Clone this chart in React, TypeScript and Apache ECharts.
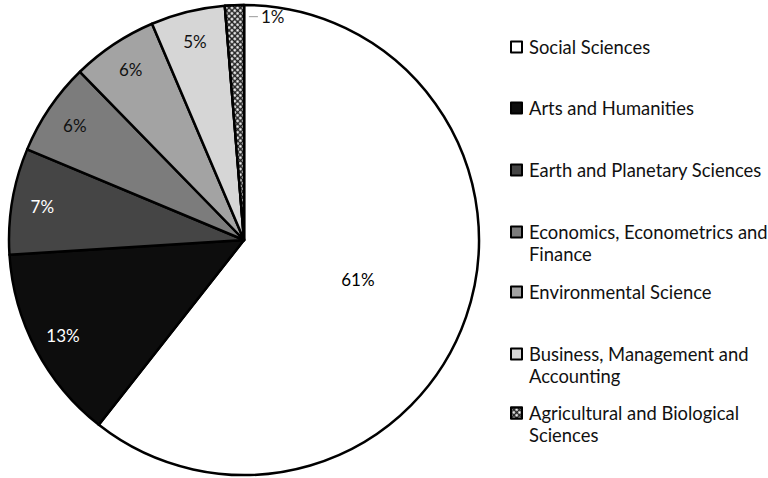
import React, { useEffect, useRef } from "react";
import * as echarts from "echarts";

const categories = [
  "Social Sciences",
  "Arts and Humanities",
  "Earth and Planetary Sciences",
  "Economics, Econometrics and Finance",
  "Environmental Science",
  "Business, Management and Accounting",
  "Agricultural and Biological Sciences",
];
const legendLabels = [
  "Social Sciences",
  "Arts and Humanities",
  "Earth and Planetary Sciences",
  "Economics, Econometrics and\nFinance",
  "Environmental Science",
  "Business, Management and\nAccounting",
  "Agricultural and Biological\nSciences",
];
const shares = [60.6, 13.4, 7.3, 6.4, 5.9, 5.1, 1.3];
const sliceLabels = ["61%", "13%", "7%", "6%", "6%", "5%", "1%"];
const colors = ["#ffffff", "#0d0d0d", "#454545", "#7c7c7c", "#a3a3a3", "#d6d6d6", "#222222"];
const labelColors = ["#000", "#fff", "#fff", "#111", "#111", "#111", "#111"];
const legendCenters = [47, 108, 170, 232, 292, 354, 413];

const FONT = "Lato, 'Open Sans', sans-serif";

export default function App() {
  const ref = useRef<HTMLDivElement>(null);
  useEffect(() => {
    const chart = echarts.init(ref.current!, undefined, { renderer: "svg" });
    const R = 235;
    const mainData = categories.map((name, i) => ({
      name,
      value: shares[i],
      itemStyle: {
        color: colors[i],
        decal:
          i === 6
            ? { symbol: "circle", symbolSize: 0.9, dashArrayX: [[3, 1]], dashArrayY: [3, 1], color: "#ffffff", rotation: Math.PI / 4 }
            : undefined,
      },
      label: i === 0 ? { show: true } : { show: false },
    }));
    const ringData = categories.map((name, i) => ({
      name,
      value: shares[i],
      label:
        i === 0
          ? { show: false }
          : i === 6
          ? {
              show: true,
              formatter: "{ln|}{t|" + sliceLabels[i] + "}",
              offset: [31, -19],
              rich: {
                ln: { width: 9, height: 1, backgroundColor: "#999" },
                t: { fontSize: 17, fontFamily: FONT, color: "#111", padding: [0, 0, 0, 3] },
              },
            }
          : { show: true, color: labelColors[i] },
    }));
    const lh = 22;
    const legends = categories.map((name, i) => {
      const twoLine = legendLabels[i].includes("\n");
      const top = twoLine ? legendCenters[i] - 1.5 * lh : legendCenters[i] - lh / 2;
      return {
        data: [name],
        left: 510,
        top,
        padding: 0,
        orient: "vertical",
        icon: "rect",
        itemWidth: 11,
        itemHeight: 11,
        itemGap: 0,
        selectedMode: false,
        formatter: () => (twoLine ? "\n" + legendLabels[i] : legendLabels[i]),
        textStyle: { fontFamily: FONT, fontSize: 18.4, color: "#111", lineHeight: lh, padding: [0, 0, 0, 2] },
      };
    });
    chart.setOption({
      animation: false,
      legend: legends,
      series: [
        {
          type: "pie",
          center: [244, 240],
          radius: R,
          startAngle: 90,
          clockwise: true,
          avoidLabelOverlap: false,
          silent: true,
          itemStyle: { borderColor: "#000", borderWidth: 2.5 },
          label: {
            position: "inner",
            fontFamily: FONT,
            fontSize: 17,
            color: "#000",
            formatter: (p: any) => sliceLabels[p.dataIndex],
          },
          labelLine: { show: false },
          emphasis: { disabled: true },
          data: mainData,
        },
        {
          type: "pie",
          center: [244, 240],
          radius: [168, R],
          startAngle: 90,
          clockwise: true,
          avoidLabelOverlap: false,
          silent: true,
          itemStyle: { color: "transparent", borderWidth: 0 },
          label: {
            position: "inside",
            fontFamily: FONT,
            fontSize: 17,
            formatter: (p: any) => sliceLabels[p.dataIndex],
          },
          labelLine: { show: false },
          emphasis: { disabled: true },
          data: ringData,
        },
      ],
    });
    return () => chart.dispose();
  }, []);
  return (
    <div
      ref={ref}
      style={{ position: "absolute", left: 0, top: 0, width: 768, height: 478, background: "#fff" }}
    />
  );
}
